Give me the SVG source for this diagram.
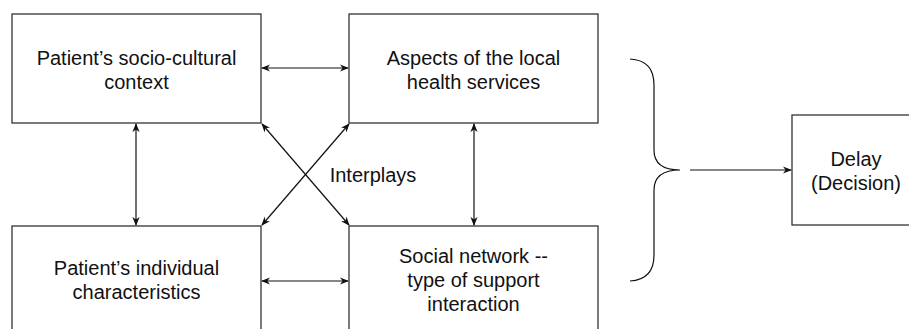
<svg xmlns="http://www.w3.org/2000/svg" width="909" height="329" viewBox="0 0 909 329">
<style>
.box{fill:#fff;stroke:#333;stroke-width:1.3}
.t{font-family:"Liberation Sans",Arial,sans-serif;font-size:20px;fill:#111;text-anchor:middle}
.c{fill:none;stroke:#111;stroke-width:1.2}
</style>
<defs>
<marker id="ah" viewBox="0 0 10 10" refX="9" refY="5" markerWidth="9" markerHeight="9" markerUnits="userSpaceOnUse" orient="auto-start-reverse">
<path d="M0,1 L10,5 L0,9 L3,5 Z" fill="#111"/>
</marker>
</defs>
<rect width="909" height="329" fill="#fff"/>
<g id="n1"><rect class="box" x="12" y="14" width="249" height="109"/>
<text class="t" x="136.5" y="65">Patient’s socio-cultural</text>
<text class="t" x="136.5" y="89">context</text></g>
<g id="n2"><rect class="box" x="349" y="14" width="249" height="109"/>
<text class="t" x="473.5" y="65">Aspects of the local</text>
<text class="t" x="473.5" y="89">health services</text></g>
<g id="n3"><rect class="box" x="12" y="226" width="249" height="110"/>
<text class="t" x="136.5" y="275">Patient’s individual</text>
<text class="t" x="136.5" y="299">characteristics</text></g>
<g id="n4"><rect class="box" x="349" y="226" width="249" height="110"/>
<text class="t" x="473.5" y="263">Social network --</text>
<text class="t" x="473.5" y="287">type of support</text>
<text class="t" x="473.5" y="311">interaction</text></g>
<g id="n5"><rect class="box" x="792" y="115" width="128" height="110"/>
<text class="t" x="856" y="166">Delay</text>
<text class="t" x="856" y="190">(Decision)</text></g>
<g id="connectors">
<line class="c" x1="262" y1="68" x2="348" y2="68" marker-start="url(#ah)" marker-end="url(#ah)"/>
<line class="c" x1="262" y1="281" x2="348" y2="281" marker-start="url(#ah)" marker-end="url(#ah)"/>
<line class="c" x1="136" y1="124" x2="136" y2="225" marker-start="url(#ah)" marker-end="url(#ah)"/>
<line class="c" x1="474" y1="124" x2="474" y2="225" marker-start="url(#ah)" marker-end="url(#ah)"/>
<line class="c" x1="262" y1="124" x2="349" y2="225" marker-start="url(#ah)" marker-end="url(#ah)"/>
<line class="c" x1="349" y1="124" x2="262" y2="225" marker-start="url(#ah)" marker-end="url(#ah)"/>
<path class="c" d="M630,59 C648,60 654,70 654,85 L654,150 C654,163 662,170 680,170 C662,170 654,177 654,190 L654,255 C654,270 648,280 630,281"/>
<line class="c" x1="690" y1="170" x2="791" y2="170" marker-end="url(#ah)"/>
</g>
<text class="t" x="373" y="182">Interplays</text>
</svg>
